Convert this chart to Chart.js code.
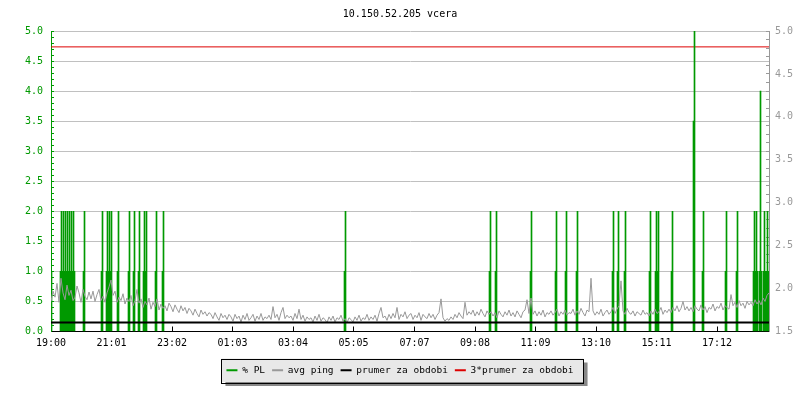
<!DOCTYPE html>
<html>
<head>
<meta charset="utf-8">
<title>10.150.52.205 vcera</title>
<script src="https://cdn.jsdelivr.net/npm/chart.js@4.4.1/dist/chart.umd.min.js"></script>
<style>
  body { margin: 0; background: #fff; }
  canvas { display: block; }
</style>
</head>
<body>
<canvas id="pingChart" width="800" height="400"></canvas>
<script>
// osa x: minuty od 19:00
const xTickMinutes = [0, 121, 242, 363, 484, 605, 727, 848, 969, 1090, 1211, 1332];
const xTickLabels = ['19:00', '21:01', '23:02', '01:03', '03:04', '05:05',
                     '07:07', '09:08', '11:09', '13:10', '15:11', '17:12'];
const xMaxMinute = 1436;

// % PL - jen nenulove vzorky (minuta, hodnota)
const plMinutes = [1,
  19, 21, 23, 25, 27, 29, 31, 33, 35, 37, 39, 41, 43, 45, 47,
  65, 67, 101, 103, 111, 113, 115, 117, 119, 121, 133, 135,
  155, 157, 165, 167, 175, 177, 185, 187, 189, 191, 209, 211, 223, 225,
  587, 589, 877, 879, 889, 891, 959, 961, 1009, 1011, 1029, 1031, 1051, 1053,
  1123, 1125, 1133, 1135, 1147, 1149, 1197, 1199, 1209, 1211, 1213, 1215,
  1241, 1243, 1285, 1287, 1303, 1305, 1349, 1351, 1371, 1373,
  1405, 1407, 1409, 1411, 1413, 1417, 1419, 1421, 1425, 1427, 1429, 1431, 1433, 1435];
const plValues = [1,
  1, 2, 1, 2, 1, 2, 1, 2, 1, 2, 1, 2, 1, 2, 1,
  1, 2, 1, 2, 1, 2, 1, 2, 1, 2, 1, 2,
  1, 2, 1, 2, 1, 2, 1, 2, 1, 2, 1, 2, 1, 2,
  1, 2, 1, 2, 1, 2, 1, 2, 1, 2, 1, 2, 1, 2,
  1, 2, 1, 2, 1, 2, 1, 2, 1, 2, 1, 2,
  1, 2, 3.5, 5, 1, 2, 1, 2, 1, 2,
  1, 2, 1, 2, 1, 1, 4, 1, 1, 2, 1, 1, 2, 1];

// avg ping - vzorek kazde 4 minuty (radek = 40 minut)
const pingStep = 4;
const avgPing = [
  1.85, 1.97, 1.90, 2.06, 1.84, 2.12, 1.95, 1.87, 2.04, 1.92,
  1.98, 1.86, 1.90, 2.03, 1.95, 1.84, 1.99, 1.91, 1.87, 1.96,
  1.88, 1.97, 1.85, 1.93, 1.99, 1.86, 1.91, 1.84, 1.95, 2.02,
  2.10, 1.92, 1.97, 1.84, 1.90, 1.86, 1.94, 1.82, 1.89, 1.85,
  1.92, 1.80, 1.86, 1.99, 1.83, 1.88, 1.78, 1.85, 1.81, 1.89,
  1.76, 1.84, 1.79, 1.88, 1.75, 1.82, 1.77, 1.80, 1.74, 1.83,
  1.79, 1.73, 1.81, 1.76, 1.72, 1.80, 1.74, 1.78, 1.71, 1.77,
  1.74, 1.69, 1.76, 1.71, 1.67, 1.75, 1.70, 1.73, 1.68, 1.72,
  1.70, 1.65, 1.72, 1.67, 1.63, 1.71, 1.66, 1.69, 1.64, 1.70,
  1.67, 1.62, 1.70, 1.65, 1.68, 1.61, 1.69, 1.64, 1.71, 1.63,
  1.66, 1.70, 1.62, 1.68, 1.64, 1.71, 1.63, 1.67, 1.65, 1.69,
  1.64, 1.79, 1.66, 1.70, 1.63, 1.72, 1.78, 1.65, 1.69, 1.66,
  1.68, 1.63, 1.71, 1.65, 1.76, 1.64, 1.69, 1.62, 1.67, 1.64,
  1.66, 1.61, 1.68, 1.63, 1.70, 1.62, 1.66, 1.64, 1.60, 1.67,
  1.63, 1.68, 1.61, 1.66, 1.64, 1.69, 1.62, 1.65, 1.60, 1.66,
  1.64, 1.61, 1.67, 1.63, 1.69, 1.62, 1.66, 1.64, 1.70, 1.63,
  1.67, 1.64, 1.69, 1.62, 1.71, 1.78, 1.66, 1.68, 1.63, 1.70,
  1.65, 1.71, 1.66, 1.78, 1.64, 1.70, 1.67, 1.73, 1.65, 1.69,
  1.71, 1.64, 1.69, 1.66, 1.72, 1.63, 1.70, 1.67, 1.65, 1.71,
  1.66, 1.70, 1.64, 1.69, 1.72, 1.88, 1.66, 1.62, 1.65, 1.63,
  1.67, 1.64, 1.70, 1.66, 1.72, 1.68, 1.65, 1.84, 1.69, 1.73,
  1.70, 1.75, 1.68, 1.73, 1.69, 1.76, 1.71, 1.67, 1.74, 1.70,
  1.73, 1.68, 1.72, 1.66, 1.74, 1.70, 1.67, 1.73, 1.69, 1.75,
  1.68, 1.72, 1.67, 1.74, 1.70, 1.66, 1.73, 1.75, 1.87, 1.71,
  1.89, 1.70, 1.74, 1.68, 1.73, 1.69, 1.75, 1.67, 1.72, 1.70,
  1.74, 1.69, 1.72, 1.76, 1.68, 1.73, 1.70, 1.75, 1.69, 1.72,
  1.71, 1.76, 1.69, 1.74, 1.70, 1.77, 1.72, 1.68, 1.75, 1.73,
  2.12, 1.74, 1.69, 1.73, 1.70, 1.76, 1.68, 1.72, 1.75, 1.70,
  1.73, 1.78, 1.71, 1.76, 1.80, 2.09, 1.74, 1.70, 1.77, 1.72,
  1.70, 1.74, 1.68, 1.73, 1.71, 1.69, 1.75, 1.70, 1.72, 1.68,
  1.74, 1.70, 1.76, 1.71, 1.73, 1.78, 1.70, 1.75, 1.72, 1.76,
  1.72, 1.78, 1.74, 1.80, 1.73, 1.77, 1.85, 1.75, 1.79, 1.74,
  1.78, 1.73, 1.80, 1.76, 1.74, 1.81, 1.75, 1.79, 1.72, 1.78,
  1.76, 1.82, 1.74, 1.79, 1.77, 1.83, 1.75, 1.80, 1.78, 1.76,
  1.93, 1.80, 1.84, 1.78, 1.86, 1.80, 1.83, 1.77, 1.85, 1.81,
  1.84, 1.80, 1.87, 1.82, 1.86, 1.81, 1.89, 1.85, 1.92, 1.95
];

const prumer = 1.605;
const prumer3 = 4.815;

const FONT = 'DejaVu Sans Mono';
const GREEN = '#009900';


function halfStep(v) {
  return Math.round(v * 10) % 5 === 0;
}

// ramecek legendy se stinem
const legendBox = {
  id: 'legendBox',
  beforeDraw(chart) {
    const boxes = chart.legend.legendHitBoxes;
    if (!boxes || !boxes.length) return;
    const left = Math.min(...boxes.map(b => b.left)) - 5;
    const right = Math.max(...boxes.map(b => b.left + b.width)) + 10;
    const top = boxes[0].top - 7;
    const h = boxes[0].height + 14;
    const ctx = chart.ctx;
    ctx.save();
    ctx.fillStyle = '#888888';
    ctx.fillRect(left + 4, top + 4, right - left, h);
    ctx.fillStyle = '#e8e8e8';
    ctx.fillRect(left, top, right - left, h);
    ctx.strokeStyle = '#000';
    ctx.lineWidth = 1;
    ctx.strokeRect(Math.round(left) + 0.5, Math.round(top) + 0.5, Math.round(right - left), Math.round(h));
    ctx.restore();
  }
};

const plData = plMinutes.map((m, i) => ({x: m, y: plValues[i]}));
const pingData = avgPing.map((v, i) => ({x: i * pingStep, y: v}));

const config = {
  type: 'line',
  data: {
    datasets: [
      {
        type: 'bar',
        label: '% PL',
        data: plData,
        backgroundColor: GREEN,
        borderColor: GREEN,
        borderWidth: 0,
        barThickness: 1,
        yAxisID: 'y',
        order: 2
      },
      {
        label: 'avg ping',
        data: pingData,
        borderColor: '#999999',
        backgroundColor: '#999999',
        borderWidth: 1,
        pointRadius: 0,
        tension: 0,
        yAxisID: 'y1',
        order: 1
      },
      {
        label: 'prumer za obdobi',
        data: [{x: 0, y: prumer}, {x: xMaxMinute, y: prumer}],
        borderColor: '#000000',
        backgroundColor: '#000000',
        borderWidth: 2,
        pointRadius: 0,
        yAxisID: 'y1',
        order: 0
      },
      {
        label: '3*prumer za obdobi',
        data: [{x: 0, y: prumer3}, {x: xMaxMinute, y: prumer3}],
        borderColor: '#dd0000',
        backgroundColor: '#dd0000',
        borderWidth: 1,
        pointRadius: 0,
        yAxisID: 'y1',
        order: 3
      }
    ]
  },
  options: {
    responsive: false,
    animation: false,
    layout: { padding: { left: 0, right: 0, top: 0, bottom: 15 } },
    scales: {
      x: {
        type: 'linear',
        min: 0,
        max: xMaxMinute,
        offset: false,
        z: 1,
        afterBuildTicks: (scale) => {
          scale.ticks = xTickMinutes.map(v => ({value: v}));
        },
        afterFit: (scale) => { scale.height = 27; },
        ticks: {
          autoSkip: false,
          maxRotation: 0,
          padding: 11,
          color: '#000',
          font: { family: FONT, size: 10 },
          callback: (value, index) => xTickLabels[index]
        },
        grid: {
          offset: false,
          drawOnChartArea: false,
          tickLength: -5,
          tickColor: '#000',
          color: '#000'
        },
        border: { color: '#000', width: 1 }
      },
      y: {
        position: 'left',
        min: 0,
        max: 5,
        afterFit: (scale) => { scale.width = 51; },
        ticks: {
          stepSize: 0.1,
          autoSkip: false,
          padding: 11,
          color: GREEN,
          font: { family: FONT, size: 10 },
          callback: (value) => halfStep(value) ? value.toFixed(1) : ''
        },
        grid: {
          tickLength: -3,
          tickColor: GREEN,
          color: (ctx) => (ctx.tick && halfStep(ctx.tick.value)) ? '#c0c0c0' : 'rgba(0,0,0,0)'
        },
        border: { color: GREEN, width: 1 }
      },
      y1: {
        position: 'right',
        min: 1.5,
        max: 5,
        afterFit: (scale) => { scale.width = 31; },
        ticks: {
          stepSize: 0.1,
          autoSkip: false,
          padding: 9,
          color: '#999999',
          font: { family: FONT, size: 10 },
          callback: (value) => halfStep(value) ? value.toFixed(1) : ''
        },
        grid: {
          drawOnChartArea: false,
          tickLength: -3,
          tickColor: '#999999'
        },
        border: { color: '#999999', width: 1 }
      }
    },
    plugins: {
      title: {
        display: true,
        text: '10.150.52.205 vcera',
        color: '#000',
        font: { family: FONT, size: 10, weight: 'normal' },
        padding: { top: 8, bottom: 11 }
      },
      legend: {
        position: 'bottom',
        labels: {
          color: '#000',
          font: { family: FONT, size: 9.5 },
          boxWidth: 11,
          boxHeight: 2,
          padding: 7,
          sort: (a, b) => a.datasetIndex - b.datasetIndex,
          generateLabels: (chart) => Chart.defaults.plugins.legend.labels.generateLabels(chart)
            .map(l => Object.assign(l, { fillStyle: l.strokeStyle, lineWidth: 0 }))
        }
      },
      tooltip: { enabled: false }
    }
  },
  plugins: [legendBox]
};

const ctx = document.getElementById('pingChart').getContext('2d');
new Chart(ctx, config);
</script>
</body>
</html>
